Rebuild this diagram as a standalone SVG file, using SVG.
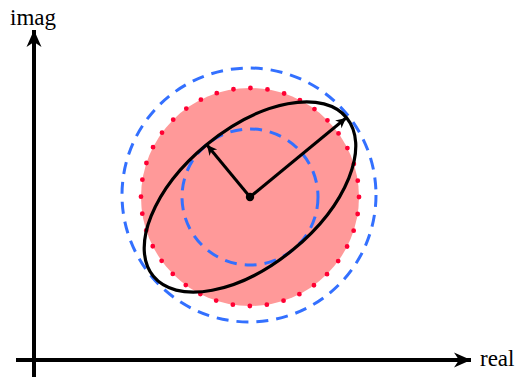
<svg xmlns="http://www.w3.org/2000/svg" width="517" height="378" viewBox="0 0 517 378">
<defs>
<style>
.lbl{font-family:"Liberation Serif","Times New Roman",serif;font-size:23px;fill:#000}
.axis{stroke:#000;stroke-width:4;fill:none}
.blue{fill:none;stroke:#3370ff;stroke-width:3;stroke-dasharray:12 8}
.vec{stroke:#000;stroke-width:3;fill:none}
</style>
<marker id="axhead" markerUnits="userSpaceOnUse" viewBox="-20 -10 22 20" refX="0" refY="0" markerWidth="22" markerHeight="20" orient="auto">
<path d="M0,0 L-17,-7.5 L-12,0 L-17,7.5 Z" fill="#000"/>
</marker>
<marker id="vhead" markerUnits="userSpaceOnUse" viewBox="-12 -6 13 12" refX="0" refY="0" markerWidth="13" markerHeight="12" orient="auto">
<path d="M0,0 L-10,-5 L-7,0 L-10,5 Z" fill="#000"/>
</marker>
</defs>
<g id="axes">
<line class="axis" x1="34" y1="377" x2="34" y2="30" marker-end="url(#axhead)"/>
<line class="axis" x1="16" y1="360" x2="471" y2="360" marker-end="url(#axhead)"/>
</g>
<g id="disk">
<circle cx="250" cy="197" r="109" fill="#ff9999"/>
<circle cx="250" cy="197" r="109" fill="none" stroke="#ff0033" stroke-width="4.8" stroke-linecap="round" stroke-dasharray="0 17.12"/>
</g>
<g id="circles">
<circle class="blue" cx="249" cy="195" r="127"/>
<circle class="blue" cx="250" cy="197" r="68"/>
</g>
<g id="ellipse">
<ellipse cx="250" cy="197" rx="125" ry="68" transform="rotate(-39.4 250 197)" fill="none" stroke="#000" stroke-width="3.2"/>
</g>
<g id="vectors">
<line class="vec" x1="250" y1="197" x2="346" y2="118" marker-end="url(#vhead)"/>
<line class="vec" x1="250" y1="197" x2="207" y2="145" marker-end="url(#vhead)"/>
<circle cx="250" cy="197" r="4.2" fill="#000"/>
</g>
<g id="labels">
<text class="lbl" x="10" y="25">imag</text>
<text class="lbl" x="480" y="366">real</text>
</g>
</svg>
